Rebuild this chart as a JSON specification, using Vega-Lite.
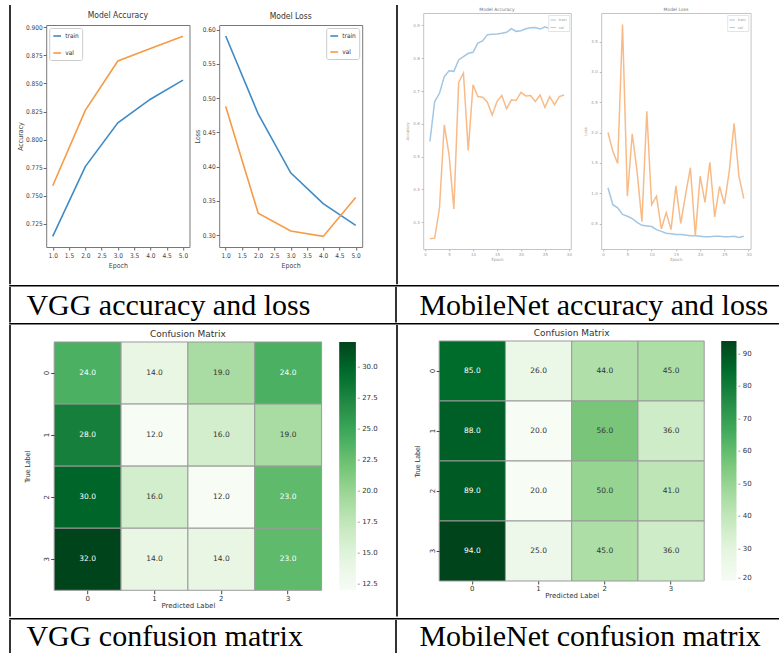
{
 "$schema": "https://vega.github.io/schema/vega-lite/v6.json",
 "background": "white",
 "padding": {"left": 9.2, "top": 5, "right": 0, "bottom": 0},
 "config": {
  "view": {"stroke": null},
  "font": "DejaVu Sans",
  "axis": {"grid": false, "domain": false, "titleFontWeight": "normal"},
  "title": {"fontWeight": "normal"}
 },
 "datasets": {
  "vggAcc": [
   {"epoch": 1, "split": "train", "value": 0.714}, {"epoch": 2, "split": "train", "value": 0.776}, {"epoch": 3, "split": "train", "value": 0.815}, {"epoch": 4, "split": "train", "value": 0.836}, {"epoch": 5, "split": "train", "value": 0.853},
   {"epoch": 1, "split": "val", "value": 0.759}, {"epoch": 2, "split": "val", "value": 0.826}, {"epoch": 3, "split": "val", "value": 0.870}, {"epoch": 4, "split": "val", "value": 0.881}, {"epoch": 5, "split": "val", "value": 0.892}
  ],
  "vggLoss": [
   {"epoch": 1, "split": "train", "value": 0.591}, {"epoch": 2, "split": "train", "value": 0.477}, {"epoch": 3, "split": "train", "value": 0.391}, {"epoch": 4, "split": "train", "value": 0.346}, {"epoch": 5, "split": "train", "value": 0.314},
   {"epoch": 1, "split": "val", "value": 0.488}, {"epoch": 2, "split": "val", "value": 0.332}, {"epoch": 3, "split": "val", "value": 0.306}, {"epoch": 4, "split": "val", "value": 0.298}, {"epoch": 5, "split": "val", "value": 0.355}
  ],
  "mobAcc": [
   {"epoch": 1, "split": "train", "value": 0.546}, {"epoch": 2, "split": "train", "value": 0.668}, {"epoch": 3, "split": "train", "value": 0.693}, {"epoch": 4, "split": "train", "value": 0.744}, {"epoch": 5, "split": "train", "value": 0.762}, {"epoch": 6, "split": "train", "value": 0.760}, {"epoch": 7, "split": "train", "value": 0.795}, {"epoch": 8, "split": "train", "value": 0.805}, {"epoch": 9, "split": "train", "value": 0.815}, {"epoch": 10, "split": "train", "value": 0.818}, {"epoch": 11, "split": "train", "value": 0.846}, {"epoch": 12, "split": "train", "value": 0.853}, {"epoch": 13, "split": "train", "value": 0.872}, {"epoch": 14, "split": "train", "value": 0.873}, {"epoch": 15, "split": "train", "value": 0.874}, {"epoch": 16, "split": "train", "value": 0.876}, {"epoch": 17, "split": "train", "value": 0.879}, {"epoch": 18, "split": "train", "value": 0.890}, {"epoch": 19, "split": "train", "value": 0.882}, {"epoch": 20, "split": "train", "value": 0.884}, {"epoch": 21, "split": "train", "value": 0.890}, {"epoch": 22, "split": "train", "value": 0.893}, {"epoch": 23, "split": "train", "value": 0.894}, {"epoch": 24, "split": "train", "value": 0.889}, {"epoch": 25, "split": "train", "value": 0.896}, {"epoch": 26, "split": "train", "value": 0.890}, {"epoch": 27, "split": "train", "value": 0.891}, {"epoch": 28, "split": "train", "value": 0.904}, {"epoch": 29, "split": "train", "value": 0.892},
   {"epoch": 1, "split": "val", "value": 0.249}, {"epoch": 2, "split": "val", "value": 0.251}, {"epoch": 3, "split": "val", "value": 0.343}, {"epoch": 4, "split": "val", "value": 0.597}, {"epoch": 5, "split": "val", "value": 0.505}, {"epoch": 6, "split": "val", "value": 0.340}, {"epoch": 7, "split": "val", "value": 0.726}, {"epoch": 8, "split": "val", "value": 0.755}, {"epoch": 9, "split": "val", "value": 0.519}, {"epoch": 10, "split": "val", "value": 0.719}, {"epoch": 11, "split": "val", "value": 0.683}, {"epoch": 12, "split": "val", "value": 0.681}, {"epoch": 13, "split": "val", "value": 0.666}, {"epoch": 14, "split": "val", "value": 0.627}, {"epoch": 15, "split": "val", "value": 0.668}, {"epoch": 16, "split": "val", "value": 0.686}, {"epoch": 17, "split": "val", "value": 0.646}, {"epoch": 18, "split": "val", "value": 0.673}, {"epoch": 19, "split": "val", "value": 0.671}, {"epoch": 20, "split": "val", "value": 0.696}, {"epoch": 21, "split": "val", "value": 0.685}, {"epoch": 22, "split": "val", "value": 0.686}, {"epoch": 23, "split": "val", "value": 0.668}, {"epoch": 24, "split": "val", "value": 0.688}, {"epoch": 25, "split": "val", "value": 0.650}, {"epoch": 26, "split": "val", "value": 0.683}, {"epoch": 27, "split": "val", "value": 0.658}, {"epoch": 28, "split": "val", "value": 0.683}, {"epoch": 29, "split": "val", "value": 0.688}
  ],
  "mobLoss": [
   {"epoch": 1, "split": "train", "value": 1.09}, {"epoch": 2, "split": "train", "value": 0.81}, {"epoch": 3, "split": "train", "value": 0.76}, {"epoch": 4, "split": "train", "value": 0.65}, {"epoch": 5, "split": "train", "value": 0.62}, {"epoch": 6, "split": "train", "value": 0.58}, {"epoch": 7, "split": "train", "value": 0.52}, {"epoch": 8, "split": "train", "value": 0.47}, {"epoch": 9, "split": "train", "value": 0.46}, {"epoch": 10, "split": "train", "value": 0.45}, {"epoch": 11, "split": "train", "value": 0.40}, {"epoch": 12, "split": "train", "value": 0.37}, {"epoch": 13, "split": "train", "value": 0.34}, {"epoch": 14, "split": "train", "value": 0.33}, {"epoch": 15, "split": "train", "value": 0.32}, {"epoch": 16, "split": "train", "value": 0.32}, {"epoch": 17, "split": "train", "value": 0.31}, {"epoch": 18, "split": "train", "value": 0.30}, {"epoch": 19, "split": "train", "value": 0.30}, {"epoch": 20, "split": "train", "value": 0.29}, {"epoch": 21, "split": "train", "value": 0.28}, {"epoch": 22, "split": "train", "value": 0.28}, {"epoch": 23, "split": "train", "value": 0.29}, {"epoch": 24, "split": "train", "value": 0.29}, {"epoch": 25, "split": "train", "value": 0.28}, {"epoch": 26, "split": "train", "value": 0.28}, {"epoch": 27, "split": "train", "value": 0.29}, {"epoch": 28, "split": "train", "value": 0.27}, {"epoch": 29, "split": "train", "value": 0.29},
   {"epoch": 1, "split": "val", "value": 2.00}, {"epoch": 2, "split": "val", "value": 1.69}, {"epoch": 3, "split": "val", "value": 1.49}, {"epoch": 4, "split": "val", "value": 3.78}, {"epoch": 5, "split": "val", "value": 0.95}, {"epoch": 6, "split": "val", "value": 1.98}, {"epoch": 7, "split": "val", "value": 1.36}, {"epoch": 8, "split": "val", "value": 0.53}, {"epoch": 9, "split": "val", "value": 2.35}, {"epoch": 10, "split": "val", "value": 0.81}, {"epoch": 11, "split": "val", "value": 0.95}, {"epoch": 12, "split": "val", "value": 0.41}, {"epoch": 13, "split": "val", "value": 0.68}, {"epoch": 14, "split": "val", "value": 0.40}, {"epoch": 15, "split": "val", "value": 1.12}, {"epoch": 16, "split": "val", "value": 0.50}, {"epoch": 17, "split": "val", "value": 0.98}, {"epoch": 18, "split": "val", "value": 1.42}, {"epoch": 19, "split": "val", "value": 0.30}, {"epoch": 20, "split": "val", "value": 1.28}, {"epoch": 21, "split": "val", "value": 0.85}, {"epoch": 22, "split": "val", "value": 1.51}, {"epoch": 23, "split": "val", "value": 0.61}, {"epoch": 24, "split": "val", "value": 1.11}, {"epoch": 25, "split": "val", "value": 0.82}, {"epoch": 26, "split": "val", "value": 1.36}, {"epoch": 27, "split": "val", "value": 2.15}, {"epoch": 28, "split": "val", "value": 1.28}, {"epoch": 29, "split": "val", "value": 0.91}
  ],
  "vggCM": [
   {"true": "0", "pred": "0", "count": 24}, {"true": "0", "pred": "1", "count": 14}, {"true": "0", "pred": "2", "count": 19}, {"true": "0", "pred": "3", "count": 24},
   {"true": "1", "pred": "0", "count": 28}, {"true": "1", "pred": "1", "count": 12}, {"true": "1", "pred": "2", "count": 16}, {"true": "1", "pred": "3", "count": 19},
   {"true": "2", "pred": "0", "count": 30}, {"true": "2", "pred": "1", "count": 16}, {"true": "2", "pred": "2", "count": 12}, {"true": "2", "pred": "3", "count": 23},
   {"true": "3", "pred": "0", "count": 32}, {"true": "3", "pred": "1", "count": 14}, {"true": "3", "pred": "2", "count": 14}, {"true": "3", "pred": "3", "count": 23}
  ],
  "mobCM": [
   {"true": "0", "pred": "0", "count": 85}, {"true": "0", "pred": "1", "count": 26}, {"true": "0", "pred": "2", "count": 44}, {"true": "0", "pred": "3", "count": 45},
   {"true": "1", "pred": "0", "count": 88}, {"true": "1", "pred": "1", "count": 20}, {"true": "1", "pred": "2", "count": 56}, {"true": "1", "pred": "3", "count": 36},
   {"true": "2", "pred": "0", "count": 89}, {"true": "2", "pred": "1", "count": 20}, {"true": "2", "pred": "2", "count": 50}, {"true": "2", "pred": "3", "count": 41},
   {"true": "3", "pred": "0", "count": 94}, {"true": "3", "pred": "1", "count": 25}, {"true": "3", "pred": "2", "count": 45}, {"true": "3", "pred": "3", "count": 36}
  ]
 },
 "spacing": 0,
 "resolve": {"scale": {"x": "independent", "y": "independent", "color": "independent"}, "legend": {"color": "independent"}},
 "vconcat": [
  {
   "spacing": 0,
   "resolve": {"scale": {"x": "independent", "y": "independent", "color": "independent"}, "legend": {"color": "independent"}},
   "hconcat": [
    {"width": 1.6, "height": 279.2, "data": {"values": []}, "mark": {"type": "point", "opacity": 0}, "encoding": {}, "view": {"fill": "black"}},
    {
     "columns": 5, "spacing": 0, "bounds": "flush", "align": "each",
     "resolve": {"scale": {"x": "independent", "y": "independent", "color": "independent"}, "legend": {"color": "independent"}},
     "concat": [
      {"width": 34.9, "height": 20, "data": {"values": []}, "mark": {"type": "point", "opacity": 0}, "encoding": {}},
      {"width": 143.3, "height": 20, "data": {"values": []}, "mark": {"type": "point", "opacity": 0}, "encoding": {}},
      {"width": 28.7, "height": 20, "data": {"values": []}, "mark": {"type": "point", "opacity": 0}, "encoding": {}},
      {"width": 143, "height": 20, "data": {"values": []}, "mark": {"type": "point", "opacity": 0}, "encoding": {}},
      {"width": 33.5, "height": 20, "data": {"values": []}, "mark": {"type": "point", "opacity": 0}, "encoding": {}},
      {"width": 34.9, "height": 259.2, "data": {"values": []}, "mark": {"type": "point", "opacity": 0}, "encoding": {}},
      {
       "width": 143.3, "height": 222,
       "title": {"text": "Model Accuracy", "fontSize": 8.5, "color": "#333", "offset": 5, "font": "Liberation Sans Narrow, DejaVu Sans Condensed, Roboto Condensed, Roboto, sans-serif"},
       "data": {"name": "vggAcc"},
       "mark": {"type": "line", "strokeWidth": 1.6},
       "view": {"stroke": "#777", "strokeWidth": 1},
       "encoding": {
        "x": {"field": "epoch", "type": "quantitative", "scale": {"domain": [0.8, 5.2], "nice": false, "zero": false},
              "axis": {"title": "Epoch", "values": [1, 1.5, 2, 2.5, 3, 3.5, 4, 4.5, 5], "format": ".1f", "labelFontSize": 6.5, "titleFontSize": 7, "labelColor": "#444", "titleColor": "#444", "tickColor": "#666", "tickSize": 3, "labelPadding": 2, "titlePadding": 3, "labelFlush": false, "labelFont": "Liberation Sans Narrow, DejaVu Sans Condensed, Roboto Condensed, Roboto, sans-serif", "titleFont": "Liberation Sans Narrow, DejaVu Sans Condensed, Roboto Condensed, Roboto, sans-serif"}},
        "y": {"field": "value", "type": "quantitative", "scale": {"domain": [0.7045, 0.902], "nice": false, "zero": false},
              "axis": {"title": "Accuracy", "values": [0.725, 0.75, 0.775, 0.8, 0.825, 0.85, 0.875, 0.9], "format": ".3f", "labelFontSize": 6.5, "titleFontSize": 7, "labelColor": "#444", "titleColor": "#444", "tickColor": "#666", "tickSize": 3, "labelPadding": 1, "titlePadding": 2, "labelFlush": false, "labelFont": "Liberation Sans Narrow, DejaVu Sans Condensed, Roboto Condensed, Roboto, sans-serif", "titleFont": "Liberation Sans Narrow, DejaVu Sans Condensed, Roboto Condensed, Roboto, sans-serif"}},
        "color": {"field": "split", "type": "nominal", "scale": {"domain": ["train", "val"], "range": ["#3f8bc6", "#f79a45"]},
                  "legend": {"title": null, "orient": "top-left", "offset": 3, "padding": 3, "strokeColor": "#ccc", "fillColor": "white", "cornerRadius": 2, "symbolType": "stroke", "symbolSize": 60, "symbolStrokeWidth": 1.6, "labelFontSize": 6.5, "labelColor": "#333", "rowPadding": 8, "labelOffset": 3, "labelFont": "Liberation Sans Narrow, DejaVu Sans Condensed, Roboto Condensed, Roboto, sans-serif"}}
       }
      },
      {"width": 28.7, "height": 1, "data": {"values": []}, "mark": {"type": "point", "opacity": 0}, "encoding": {}},
      {
       "width": 143, "height": 222,
       "title": {"text": "Model Loss", "fontSize": 8.5, "color": "#333", "offset": 5, "font": "Liberation Sans Narrow, DejaVu Sans Condensed, Roboto Condensed, Roboto, sans-serif"},
       "data": {"name": "vggLoss"},
       "mark": {"type": "line", "strokeWidth": 1.6},
       "view": {"stroke": "#777", "strokeWidth": 1},
       "encoding": {
        "x": {"field": "epoch", "type": "quantitative", "scale": {"domain": [0.8, 5.2], "nice": false, "zero": false},
              "axis": {"title": "Epoch", "values": [1, 1.5, 2, 2.5, 3, 3.5, 4, 4.5, 5], "format": ".1f", "labelFontSize": 6.5, "titleFontSize": 7, "labelColor": "#444", "titleColor": "#444", "tickColor": "#666", "tickSize": 3, "labelPadding": 2, "titlePadding": 3, "labelFlush": false, "labelFont": "Liberation Sans Narrow, DejaVu Sans Condensed, Roboto Condensed, Roboto, sans-serif", "titleFont": "Liberation Sans Narrow, DejaVu Sans Condensed, Roboto Condensed, Roboto, sans-serif"}},
        "y": {"field": "value", "type": "quantitative", "scale": {"domain": [0.2825, 0.607], "nice": false, "zero": false},
              "axis": {"title": "Loss", "values": [0.3, 0.35, 0.4, 0.45, 0.5, 0.55, 0.6], "format": ".2f", "labelFontSize": 6.5, "titleFontSize": 7, "labelColor": "#444", "titleColor": "#444", "tickColor": "#666", "tickSize": 3, "labelPadding": 1, "titlePadding": 2, "labelFlush": false, "labelFont": "Liberation Sans Narrow, DejaVu Sans Condensed, Roboto Condensed, Roboto, sans-serif", "titleFont": "Liberation Sans Narrow, DejaVu Sans Condensed, Roboto Condensed, Roboto, sans-serif"}},
        "color": {"field": "split", "type": "nominal", "scale": {"domain": ["train", "val"], "range": ["#3f8bc6", "#f79a45"]},
                  "legend": {"title": null, "orient": "top-right", "offset": 3, "padding": 3, "strokeColor": "#ccc", "fillColor": "white", "cornerRadius": 2, "symbolType": "stroke", "symbolSize": 60, "symbolStrokeWidth": 1.6, "labelFontSize": 6.5, "labelColor": "#333", "rowPadding": 7, "labelOffset": 3, "labelFont": "Liberation Sans Narrow, DejaVu Sans Condensed, Roboto Condensed, Roboto, sans-serif"}}
       }
      },
      {"width": 33.5, "height": 1, "data": {"values": []}, "mark": {"type": "point", "opacity": 0}, "encoding": {}}
     ]
    },
    {"width": 1.6, "height": 279.2, "data": {"values": []}, "mark": {"type": "point", "opacity": 0}, "encoding": {}, "view": {"fill": "black"}},
    {
     "columns": 5, "spacing": 0, "bounds": "flush", "align": "each",
     "resolve": {"scale": {"x": "independent", "y": "independent", "color": "independent"}, "legend": {"color": "independent"}},
     "concat": [
      {"width": 24.9, "height": 7.3, "data": {"values": []}, "mark": {"type": "point", "opacity": 0}, "encoding": {}},
      {"width": 147.6, "height": 7.3, "data": {"values": []}, "mark": {"type": "point", "opacity": 0}, "encoding": {}},
      {"width": 30, "height": 7.3, "data": {"values": []}, "mark": {"type": "point", "opacity": 0}, "encoding": {}},
      {"width": 149.4, "height": 7.3, "data": {"values": []}, "mark": {"type": "point", "opacity": 0}, "encoding": {}},
      {"width": 37.3, "height": 7.3, "data": {"values": []}, "mark": {"type": "point", "opacity": 0}, "encoding": {}},
      {"width": 24.9, "height": 271.9, "data": {"values": []}, "mark": {"type": "point", "opacity": 0}, "encoding": {}},
      {
       "width": 147.6, "height": 236,
       "title": {"text": "Model Accuracy", "fontSize": 4.5, "color": "#777", "offset": 1.5},
       "data": {"name": "mobAcc"},
       "mark": {"type": "line", "strokeWidth": 1.5},
       "view": {"stroke": "#c4c4c4", "strokeWidth": 1},
       "encoding": {
        "x": {"field": "epoch", "type": "quantitative", "scale": {"domain": [-0.4, 30.4], "nice": false, "zero": false},
              "axis": {"title": "Epoch", "values": [0, 5, 10, 15, 20, 25, 30], "format": "d", "labelFontSize": 4, "titleFontSize": 4, "labelColor": "#999", "titleColor": "#999", "tickColor": "#bbb", "tickSize": 2, "labelPadding": 1, "titlePadding": 1}},
        "y": {"field": "value", "type": "quantitative", "scale": {"domain": [0.218, 0.938], "nice": false, "zero": false},
              "axis": {"title": "Accuracy", "values": [0.3, 0.4, 0.5, 0.6, 0.7, 0.8, 0.9], "format": ".1f", "labelFontSize": 4, "titleFontSize": 4, "labelColor": "#999", "titleColor": "#999", "tickColor": "#bbb", "tickSize": 2, "labelPadding": 2, "titlePadding": 3}},
        "color": {"field": "split", "type": "nominal", "scale": {"domain": ["train", "val"], "range": ["#a3c6e3", "#f8bb87"]},
                  "legend": {"title": null, "orient": "top-right", "offset": 2, "padding": 1.5, "strokeColor": "#e4e4e4", "fillColor": "white", "symbolType": "stroke", "symbolSize": 30, "symbolStrokeWidth": 1, "labelFontSize": 3.5, "labelColor": "#999", "rowPadding": 1.5, "labelOffset": 2}}
       }
      },
      {"width": 30, "height": 1, "data": {"values": []}, "mark": {"type": "point", "opacity": 0}, "encoding": {}},
      {
       "width": 149.4, "height": 236,
       "title": {"text": "Model Loss", "fontSize": 4.5, "color": "#777", "offset": 1.5},
       "data": {"name": "mobLoss"},
       "mark": {"type": "line", "strokeWidth": 1.5},
       "view": {"stroke": "#c4c4c4", "strokeWidth": 1},
       "encoding": {
        "x": {"field": "epoch", "type": "quantitative", "scale": {"domain": [-0.4, 30.4], "nice": false, "zero": false},
              "axis": {"title": "Epoch", "values": [0, 5, 10, 15, 20, 25, 30], "format": "d", "labelFontSize": 4, "titleFontSize": 4, "labelColor": "#999", "titleColor": "#999", "tickColor": "#bbb", "tickSize": 2, "labelPadding": 1, "titlePadding": 1}},
        "y": {"field": "value", "type": "quantitative", "scale": {"domain": [0.08, 3.97], "nice": false, "zero": false},
              "axis": {"title": "Loss", "values": [0.5, 1, 1.5, 2, 2.5, 3, 3.5], "format": ".1f", "labelFontSize": 4, "titleFontSize": 4, "labelColor": "#999", "titleColor": "#999", "tickColor": "#bbb", "tickSize": 2, "labelPadding": 2, "titlePadding": 3}},
        "color": {"field": "split", "type": "nominal", "scale": {"domain": ["train", "val"], "range": ["#a3c6e3", "#f8bb87"]},
                  "legend": {"title": null, "orient": "top-right", "offset": 2, "padding": 1.5, "strokeColor": "#e4e4e4", "fillColor": "white", "symbolType": "stroke", "symbolSize": 30, "symbolStrokeWidth": 1, "labelFontSize": 3.5, "labelColor": "#999", "rowPadding": 1.5, "labelOffset": 2}}
       }
      },
      {"width": 37.3, "height": 1, "data": {"values": []}, "mark": {"type": "point", "opacity": 0}, "encoding": {}}
     ]
    }
   ]
  },
  {"width": 775.8, "height": 1.6, "data": {"values": []}, "mark": {"type": "point", "opacity": 0}, "encoding": {}, "view": {"fill": "black"}},
  {
   "spacing": 0,
   "hconcat": [
    {"width": 1.6, "height": 35.4, "data": {"values": []}, "mark": {"type": "point", "opacity": 0}, "encoding": {}, "view": {"fill": "black"}},
    {"width": 383.4, "height": 35.4, "data": {"values": [{"caption": "VGG accuracy and loss"}]}, "mark": {"type": "text", "font": "Liberation Serif", "fontSize": 30, "align": "left", "baseline": "alphabetic", "dx": -176.5, "dy": 10.5, "color": "black"}, "encoding": {"text": {"field": "caption"}}},
    {"width": 1.6, "height": 35.4, "data": {"values": []}, "mark": {"type": "point", "opacity": 0}, "encoding": {}, "view": {"fill": "black"}},
    {"width": 389.2, "height": 35.4, "data": {"values": [{"caption": "MobileNet accuracy and loss"}]}, "mark": {"type": "text", "font": "Liberation Serif", "fontSize": 30, "align": "left", "baseline": "alphabetic", "dx": -172.4, "dy": 10.5, "color": "black"}, "encoding": {"text": {"field": "caption"}}}
   ]
  },
  {"width": 775.8, "height": 1.6, "data": {"values": []}, "mark": {"type": "point", "opacity": 0}, "encoding": {}, "view": {"fill": "black"}},
  {
   "spacing": 0,
   "resolve": {"scale": {"x": "independent", "y": "independent", "color": "independent"}, "legend": {"color": "independent"}},
   "hconcat": [
    {"width": 1.6, "height": 291.4, "data": {"values": []}, "mark": {"type": "point", "opacity": 0}, "encoding": {}, "view": {"fill": "black"}},
    {
     "columns": 3, "spacing": 0, "bounds": "flush", "align": "each",
     "resolve": {"scale": {"x": "independent", "y": "independent", "color": "independent"}, "legend": {"color": "independent"}},
     "concat": [
      {"width": 42.5, "height": 16.2, "data": {"values": []}, "mark": {"type": "point", "opacity": 0}, "encoding": {}},
      {"width": 267.4, "height": 16.2, "data": {"values": []}, "mark": {"type": "point", "opacity": 0}, "encoding": {}},
      {"width": 73.5, "height": 16.2, "data": {"values": []}, "mark": {"type": "point", "opacity": 0}, "encoding": {}},
      {"width": 42.5, "height": 275.2, "data": {"values": []}, "mark": {"type": "point", "opacity": 0}, "encoding": {}},
      {
       "width": 267.4, "height": 248.3,
       "title": {"text": "Confusion Matrix", "fontSize": 9, "color": "#333", "offset": 2.5},
       "data": {"name": "vggCM"},
       "encoding": {
        "x": {"field": "pred", "type": "ordinal", "scale": {"paddingInner": 0, "paddingOuter": 0},
              "axis": {"title": "Predicted Label", "labelAngle": 0, "labelFontSize": 7, "titleFontSize": 7, "labelColor": "#333", "titleColor": "#333", "tickColor": "#444", "tickSize": 3.5, "labelPadding": 1, "titlePadding": 0}},
        "y": {"field": "true", "type": "ordinal", "scale": {"paddingInner": 0, "paddingOuter": 0},
              "axis": {"title": "True Label", "labelAngle": -90, "labelFontSize": 7, "titleFontSize": 7, "labelColor": "#333", "titleColor": "#333", "tickColor": "#444", "tickSize": 3.5, "labelPadding": 1, "titlePadding": 12, "titleFont": "Liberation Sans Narrow, DejaVu Sans Condensed, Roboto Condensed, Roboto, sans-serif"}}
       },
       "layer": [
        {"mark": {"type": "rect", "stroke": "#9a9a9a", "strokeWidth": 1},
         "encoding": {"color": {"field": "count", "type": "quantitative",
                                "scale": {"domain": [12, 14.5, 17, 19.5, 22, 24.5, 27, 29.5, 32], "range": ["#f7fcf5", "#e5f5e0", "#c7e9c0", "#a1d99b", "#74c476", "#41ab5d", "#238b45", "#006d2c", "#00441b"], "interpolate": "rgb"},
                                "legend": {"title": null, "orient": "right", "direction": "vertical", "offset": 16.6, "gradientLength": 248.3, "gradientThickness": 16.7, "values": [12.5, 15, 17.5, 20, 22.5, 25, 27.5, 30], "format": ".1f", "labelExpr": "'- ' + datum.label", "labelFontSize": 7, "labelColor": "#333", "labelOffset": 1.5, "labelOverlap": false, "gradientStrokeWidth": 0}}}},
        {"mark": {"type": "text", "fontSize": 7.5},
         "encoding": {"text": {"field": "count", "type": "quantitative", "format": ".1f"},
                      "color": {"condition": {"test": "datum.count >= 22", "value": "white"}, "value": "#333"}}}
       ]
      },
      {"width": 73.5, "height": 1, "data": {"values": []}, "mark": {"type": "point", "opacity": 0}, "encoding": {}}
     ]
    },
    {"width": 1.6, "height": 291.4, "data": {"values": []}, "mark": {"type": "point", "opacity": 0}, "encoding": {}, "view": {"fill": "black"}},
    {
     "columns": 3, "spacing": 0, "bounds": "flush", "align": "each",
     "resolve": {"scale": {"x": "independent", "y": "independent", "color": "independent"}, "legend": {"color": "independent"}},
     "concat": [
      {"width": 40.9, "height": 15.5, "data": {"values": []}, "mark": {"type": "point", "opacity": 0}, "encoding": {}},
      {"width": 265, "height": 15.5, "data": {"values": []}, "mark": {"type": "point", "opacity": 0}, "encoding": {}},
      {"width": 83.3, "height": 15.5, "data": {"values": []}, "mark": {"type": "point", "opacity": 0}, "encoding": {}},
      {"width": 40.9, "height": 275.9, "data": {"values": []}, "mark": {"type": "point", "opacity": 0}, "encoding": {}},
      {
       "width": 265, "height": 240,
       "title": {"text": "Confusion Matrix", "fontSize": 9, "color": "#333", "offset": 2.5},
       "data": {"name": "mobCM"},
       "encoding": {
        "x": {"field": "pred", "type": "ordinal", "scale": {"paddingInner": 0, "paddingOuter": 0},
              "axis": {"title": "Predicted Label", "labelAngle": 0, "labelFontSize": 7, "titleFontSize": 7, "labelColor": "#333", "titleColor": "#333", "tickColor": "#444", "tickSize": 3, "labelPadding": 1, "titlePadding": 0}},
        "y": {"field": "true", "type": "ordinal", "scale": {"paddingInner": 0, "paddingOuter": 0},
              "axis": {"title": "True Label", "labelAngle": -90, "labelFontSize": 7, "titleFontSize": 7, "labelColor": "#333", "titleColor": "#333", "tickColor": "#444", "tickSize": 3, "labelPadding": 1, "titlePadding": 8, "titleFont": "Liberation Sans Narrow, DejaVu Sans Condensed, Roboto Condensed, Roboto, sans-serif"}}
       },
       "layer": [
        {"mark": {"type": "rect", "stroke": "#9a9a9a", "strokeWidth": 1},
         "encoding": {"color": {"field": "count", "type": "quantitative",
                                "scale": {"domain": [20, 29.25, 38.5, 47.75, 57, 66.25, 75.5, 84.75, 94], "range": ["#f7fcf5", "#e5f5e0", "#c7e9c0", "#a1d99b", "#74c476", "#41ab5d", "#238b45", "#006d2c", "#00441b"], "interpolate": "rgb"},
                                "legend": {"title": null, "orient": "right", "direction": "vertical", "offset": 17.3, "gradientLength": 240, "gradientThickness": 15.3, "values": [20, 30, 40, 50, 60, 70, 80, 90], "format": "d", "labelExpr": "'- ' + datum.label", "labelFontSize": 7, "labelColor": "#333", "labelOffset": 1.5, "labelOverlap": false, "gradientStrokeWidth": 0}}}},
        {"mark": {"type": "text", "fontSize": 7.5},
         "encoding": {"text": {"field": "count", "type": "quantitative", "format": ".1f"},
                      "color": {"condition": {"test": "datum.count >= 60", "value": "white"}, "value": "#333"}}}
       ]
      },
      {"width": 83.3, "height": 1, "data": {"values": []}, "mark": {"type": "point", "opacity": 0}, "encoding": {}}
     ]
    }
   ]
  },
  {"width": 775.8, "height": 1.6, "data": {"values": []}, "mark": {"type": "point", "opacity": 0}, "encoding": {}, "view": {"fill": "black"}},
  {
   "spacing": 0,
   "hconcat": [
    {"width": 1.6, "height": 39.2, "data": {"values": []}, "mark": {"type": "point", "opacity": 0}, "encoding": {}, "view": {"fill": "black"}},
    {"width": 383.4, "height": 39.2, "data": {"values": [{"caption": "VGG confusion matrix"}]}, "mark": {"type": "text", "font": "Liberation Serif", "fontSize": 30, "align": "left", "baseline": "alphabetic", "dx": -176.5, "dy": 6.6, "color": "black"}, "encoding": {"text": {"field": "caption"}}},
    {"width": 1.6, "height": 39.2, "data": {"values": []}, "mark": {"type": "point", "opacity": 0}, "encoding": {}, "view": {"fill": "black"}},
    {"width": 389.2, "height": 39.2, "data": {"values": [{"caption": "MobileNet confusion matrix"}]}, "mark": {"type": "text", "font": "Liberation Serif", "fontSize": 30, "align": "left", "baseline": "alphabetic", "dx": -172.4, "dy": 6.6, "color": "black"}, "encoding": {"text": {"field": "caption"}}}
   ]
  }
 ]
}
